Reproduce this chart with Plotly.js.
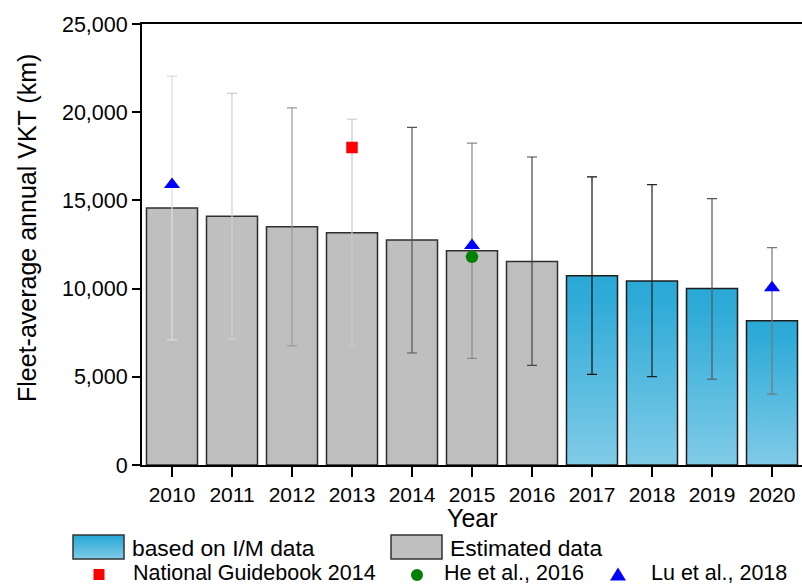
<!DOCTYPE html>
<html>
<head>
<meta charset="utf-8">
<script src="https://cdn.plot.ly/plotly-3.0.1.min.js"></script>
<style>
  html, body { margin: 0; padding: 0; background: #fff; }
  #chart { width: 802px; height: 586px; }
</style>
</head>
<body>
<div id="chart"></div>
<script>
// ---------------- data ----------------
const years = ['2010','2011','2012','2013','2014','2015','2016','2017','2018','2019','2020'];
const vkt = [14570, 14100, 13510, 13170, 12760, 12150, 11530, 10730, 10430, 10000, 8180];
const vktUpper = [22050, 21070, 20240, 19600, 19140, 18250, 17460, 16330, 15890, 15100, 12320];
const vktLower = [7090, 7140, 6750, 6750, 6350, 6050, 5650, 5140, 5010, 4860, 4020];
const dataSource = ['est','est','est','est','est','est','est','im','im','im','im'];

const guidebookYears = ['2013'];
const guidebookVKT = [18000];
const heYears = ['2015'];
const heVKT = [11800];
const luYears = ['2010', '2015', '2020'];
const luVKT = [15900, 12450, 10050];

const yTickVals = [0, 5000, 10000, 15000, 20000, 25000];
const yTickText = ['0', '5,000', '10,000', '15,000', '20,000', '25,000'];

// ---------------- styles ----------------
const errColors = ['#dcdcdc','#d0d0d0','#9a9a9a','#c8c8c8','#555555','#8a8a8a','#444444','#111111','#222222','#555555','#777777'];
const FONT = 'Liberation Sans, Arial, sans-serif';

const W = 802, H = 586;
const M = { l: 142, r: 0, t: 24, b: 121 };
const PW = W - M.l - M.r, PH = H - M.t - M.b;
const px = x => (x - M.l) / PW;
const py = y => (H - M.b - y) / PH;

const traces = [];
years.forEach((yr, i) => {
  const im = dataSource[i] === 'im';
  traces.push({
    type: 'bar',
    x: [yr],
    y: [vkt[i]],
    width: 0.85,
    marker: {
      color: im ? '#4fb5dc' : '#bfbfbf',
      line: { color: im ? '#1e1e1e' : '#2e2e2e', width: 1.5 }
    },
    error_y: {
      type: 'data',
      symmetric: false,
      array: [vktUpper[i] - vkt[i]],
      arrayminus: [vkt[i] - vktLower[i]],
      color: errColors[i],
      thickness: 1.2,
      width: 5
    },
    showlegend: false,
    hoverinfo: 'x+y',
    meta: im ? 'im' : 'est'
  });
});

traces.push({
  type: 'scatter', mode: 'markers', x: guidebookYears, y: guidebookVKT,
  marker: { symbol: 'square', size: 11.5, color: '#ff0000' }, showlegend: false
});
traces.push({
  type: 'scatter', mode: 'markers', x: heYears, y: heVKT,
  marker: { symbol: 'circle', size: 12.5, color: '#008000' }, showlegend: false
});
traces.push({
  type: 'scatter', mode: 'markers', x: luYears, y: luVKT,
  marker: { symbol: 'triangle-up', size: 14, color: '#0000ff' }, showlegend: false
});

// ---------------- custom legend ----------------
const shapes = [
  { type: 'rect', xref: 'paper', yref: 'paper', x0: px(73), x1: px(124), y0: py(559), y1: py(535),
    fillcolor: '#4fb5dc', line: { color: '#333333', width: 1.5 } },
  { type: 'rect', xref: 'paper', yref: 'paper', x0: px(391), x1: px(442), y0: py(559), y1: py(535),
    fillcolor: '#bfbfbf', line: { color: '#333333', width: 1.5 } },
  { type: 'rect', xref: 'paper', yref: 'paper', x0: px(93.5), x1: px(104.5), y0: py(580), y1: py(569),
    fillcolor: '#ff0000', line: { width: 0 } },
  { type: 'circle', xref: 'paper', yref: 'paper', x0: px(411), x1: px(423), y0: py(581), y1: py(569),
    fillcolor: '#008000', line: { width: 0 } },
  { type: 'path', xref: 'paper', yref: 'paper',
    path: 'M ' + px(610) + ' ' + py(580.5) + ' L ' + px(626) + ' ' + py(580.5) + ' L ' + px(618) + ' ' + py(567.5) + ' Z',
    fillcolor: '#0000ff', line: { width: 0 } }
];

const row1Font = { family: FONT, size: 22.8, color: '#000' };
const row2Font = { family: FONT, size: 21.5, color: '#000' };
const annotations = [
  { text: 'based on I/M data', x: px(131), y: py(548), yanchor: 'middle', font: row1Font },
  { text: 'Estimated data', x: px(449), y: py(548), yanchor: 'middle', font: row1Font },
  { text: 'National Guidebook 2014', x: px(132), y: py(586), yanchor: 'bottom', font: row2Font },
  { text: 'He et al., 2016', x: px(443), y: py(586), yanchor: 'bottom', font: row2Font },
  { text: 'Lu et al., 2018', x: px(650), y: py(586), yanchor: 'bottom', font: row2Font }
].map(a => Object.assign({ xref: 'paper', yref: 'paper', xanchor: 'left',
  showarrow: false, borderpad: 0 }, a));

annotations.push({
  text: 'Fleet-average annual VKT (km)', xref: 'paper', yref: 'paper',
  x: px(27), y: py(228), xanchor: 'center', yanchor: 'middle', textangle: -90,
  showarrow: false, font: { family: FONT, size: 25, color: '#000' }
});
annotations.push({
  text: 'Year', xref: 'paper', yref: 'paper',
  x: px(473), y: py(518), xanchor: 'center', yanchor: 'middle',
  showarrow: false, font: { family: FONT, size: 25, color: '#000' }
});

const layout = {
  width: W, height: H,
  margin: M,
  paper_bgcolor: '#fff', plot_bgcolor: '#fff',
  barmode: 'overlay',
  font: { family: FONT, color: '#000' },
  xaxis: {
    type: 'category',
    range: [-0.5, 10.5],
    showgrid: false, zeroline: false,
    showline: true, linecolor: '#000', linewidth: 2, mirror: true,
    ticks: 'outside', ticklen: 10, tickwidth: 2, tickcolor: '#000',
    tickfont: { family: FONT, size: 21, color: '#000' }
  },
  yaxis: {
    range: [0, 25000],
    tickvals: yTickVals, ticktext: yTickText,
    showgrid: false, zeroline: false,
    showline: true, linecolor: '#000', linewidth: 2,
    ticks: 'outside', ticklen: 8, tickwidth: 2, tickcolor: '#000',
    tickfont: { family: FONT, size: 21.5, color: '#000' }
  },
  shapes: shapes,
  annotations: annotations,
  showlegend: false
};

Plotly.newPlot('chart', traces, layout, { displayModeBar: false, staticPlot: true }).then(gd => {
  const svg = gd.querySelector('svg.main-svg');
  let defs = svg.querySelector('defs');
  const NS = 'http://www.w3.org/2000/svg';
  const grad = document.createElementNS(NS, 'linearGradient');
  grad.setAttribute('id', 'imGrad');
  grad.setAttribute('x1', '0'); grad.setAttribute('y1', '0');
  grad.setAttribute('x2', '0'); grad.setAttribute('y2', '1');
  [['0', '#2aa8d6'], ['0.12', '#2fabd8'], ['1', '#80cbe7']].forEach(([o, c]) => {
    const s = document.createElementNS(NS, 'stop');
    s.setAttribute('offset', o); s.setAttribute('stop-color', c);
    grad.appendChild(s);
  });
  defs.appendChild(grad);
  gd.querySelectorAll('.barlayer .trace').forEach(t => {
    const d = t.__data__;
    const tr = d && d[0] && d[0].trace;
    if (tr && tr.meta === 'im') {
      t.querySelectorAll('path').forEach(p => { p.style.fill = 'url(#imGrad)'; });
    }
  });
  const legShape = gd.querySelector('.shapelayer path[data-index="0"]');
  if (legShape) legShape.style.fill = 'url(#imGrad)';
});
</script>
</body>
</html>
